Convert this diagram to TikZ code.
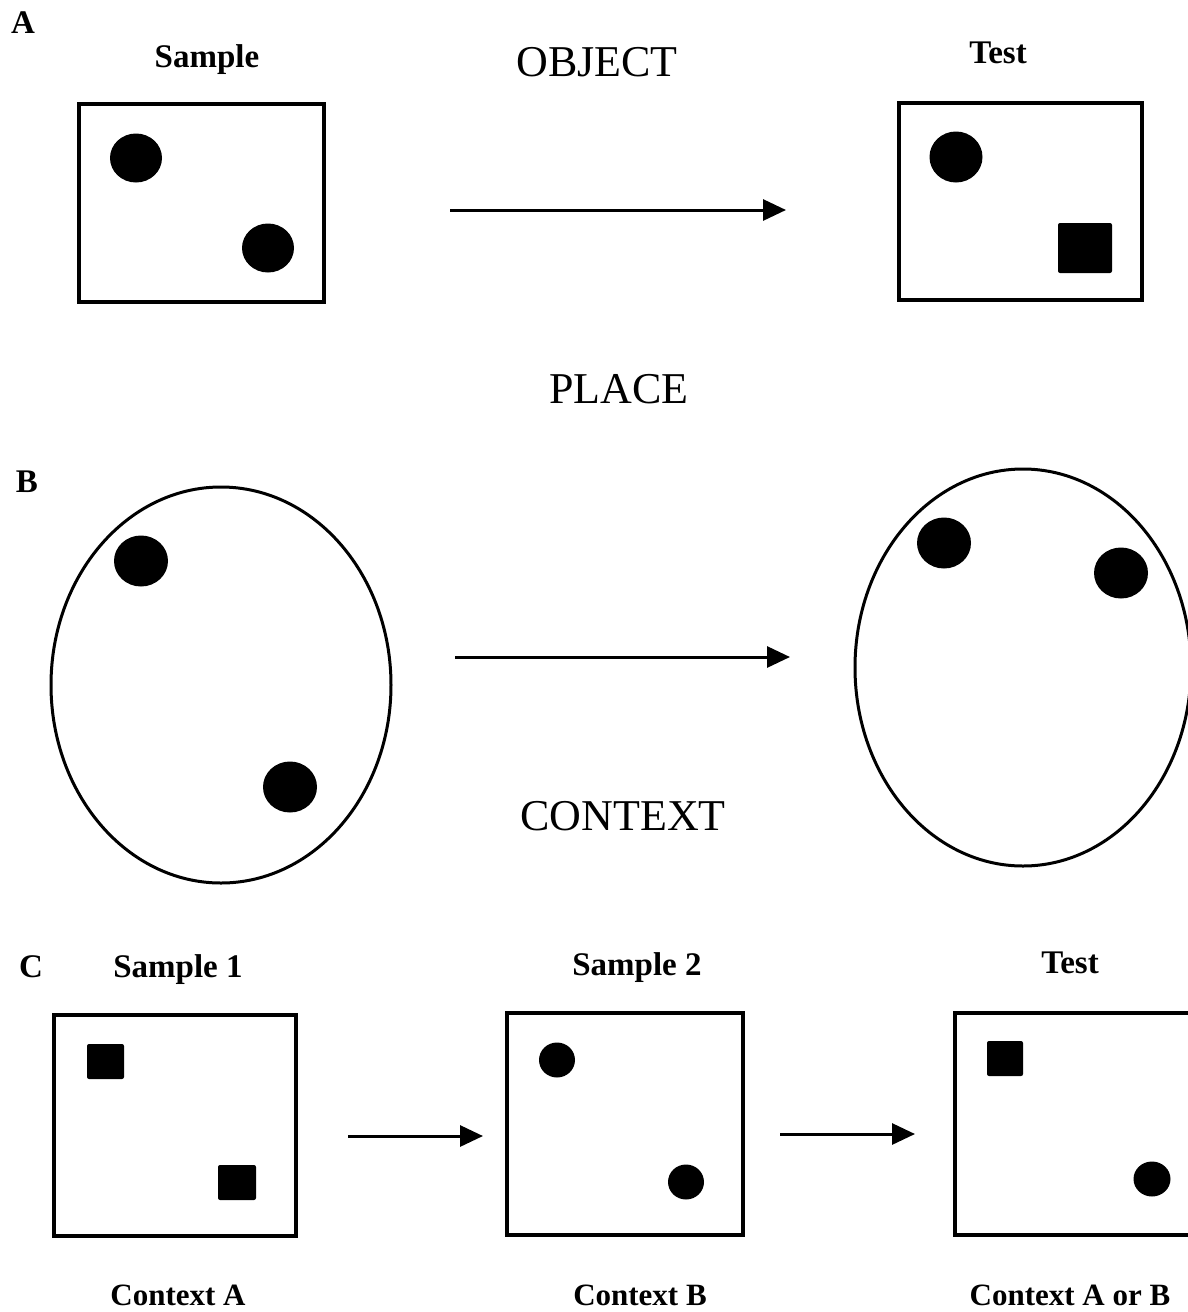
\documentclass[tikz,border=0pt]{standalone}
\usepackage{fontspec}
\setmainfont{Liberation Serif}
\usetikzlibrary{arrows.meta,shapes.geometric}
\begin{document}
\begin{tikzpicture}[x=1pt,y=-1pt,
  frame/.style={draw=black,line width=3.2pt,fill=white,inner sep=0pt},
  oval/.style={ellipse,draw=black,line width=3pt,inner sep=0pt},
  dot/.style={ellipse,fill=black,inner sep=0pt},
  blk/.style={rectangle,fill=black,rounded corners=2pt,inner sep=0pt},
  conn/.style={line width=3pt,-{Triangle[length=23pt,width=21pt]}},
  panel/.style={font=\fontsize{33}{38}\selectfont\bfseries,anchor=base,inner sep=0pt},
  head/.style={font=\fontsize{33}{38}\selectfont\bfseries,anchor=base,inner sep=0pt},
  cond/.style={font=\fontsize{44}{50}\selectfont,anchor=base,inner sep=0pt},
  ctx/.style={font=\fontsize{31}{36}\selectfont\bfseries,anchor=base,inner sep=0pt}]
\useasboundingbox (0,0) rectangle (1188,1312);
\clip (0,0) rectangle (1188,1312);
\fill[white] (0,0) rectangle (1188,1312);

% ---------- Panel A ----------
\node[panel] (lA) at (23,33) {A};
\node[head] (tSampleA) at (207,67) {Sample};
\node[head] (tTestA) at (998,63) {Test};
\node[cond] (tObject) at (597,76) {OBJECT};

\node[frame,minimum width=245pt,minimum height=198pt] (boxA1) at (201.5,203) {};
\node[dot,minimum width=52pt,minimum height=49pt] (a1c1) at (136,158) {};
\node[dot,minimum width=52pt,minimum height=49pt] (a1c2) at (268,248) {};

\node[frame,minimum width=243pt,minimum height=197pt] (boxA2) at (1020.5,201.5) {};
\node[dot,minimum width=53pt,minimum height=51pt] (a2c1) at (956,157) {};
\node[blk,minimum width=54pt,minimum height=50pt] (a2s1) at (1085,248) {};

\coordinate (arA1) at (450,210);
\coordinate (arA2) at (786,210);
\draw[conn] (arA1) -- (arA2);

\node[cond] (tPlace) at (619,403) {PLACE};

% ---------- Panel B ----------
\node[panel] (lB) at (27,492) {B};
\node[oval,minimum width=340pt,minimum height=396pt] (ovB1) at (221,685) {};
\node[dot,minimum width=54pt,minimum height=51pt] (b1c1) at (141,561) {};
\node[dot,minimum width=54pt,minimum height=51pt] (b1c2) at (290,787) {};

\node[oval,minimum width=336pt,minimum height=397pt] (ovB2) at (1023,667.5) {};
\node[dot,minimum width=54pt,minimum height=51pt] (b2c1) at (944,543) {};
\node[dot,minimum width=54pt,minimum height=51pt] (b2c2) at (1121,573) {};

\coordinate (arB1) at (455,657);
\coordinate (arB2) at (790,657);
\draw[conn] (arB1) -- (arB2);

\node[cond] (tContext) at (623,830) {CONTEXT};

% ---------- Panel C ----------
\node[panel] (lC) at (31,977) {C};
\node[head] (tS1) at (178,977) {Sample 1};
\node[head] (tS2) at (637,975) {Sample 2};
\node[head] (tTestC) at (1070,973) {Test};

\node[frame,minimum width=242pt,minimum height=221pt] (boxC1) at (175,1125.5) {};
\node[blk,minimum width=37pt,minimum height=35pt] (c1s1) at (105.5,1061.5) {};
\node[blk,minimum width=38pt,minimum height=35pt] (c1s2) at (237,1182.5) {};

\node[frame,minimum width=236pt,minimum height=222pt] (boxC2) at (625,1124) {};
\node[dot,minimum width=36pt,minimum height=35pt] (c2c1) at (557,1060) {};
\node[dot,minimum width=36pt,minimum height=35pt] (c2c2) at (686,1182) {};

\node[frame,minimum width=240pt,minimum height=222pt] (boxC3) at (1075,1124) {};
\node[blk,minimum width=36pt,minimum height=35pt] (c3s1) at (1005,1058.5) {};
\node[dot,minimum width=37pt,minimum height=35pt] (c3c1) at (1152,1179) {};

\coordinate (arC1) at (348,1136);
\coordinate (arC2) at (483,1136);
\coordinate (arC3) at (780,1134);
\coordinate (arC4) at (915,1134);
\draw[conn] (arC1) -- (arC2);
\draw[conn] (arC3) -- (arC4);

\node[ctx] (tCA) at (178,1305) {Context A};
\node[ctx] (tCB) at (640,1305) {Context B};
\node[ctx] (tCAB) at (1070,1305) {Context A or B};
\end{tikzpicture}
\end{document}
